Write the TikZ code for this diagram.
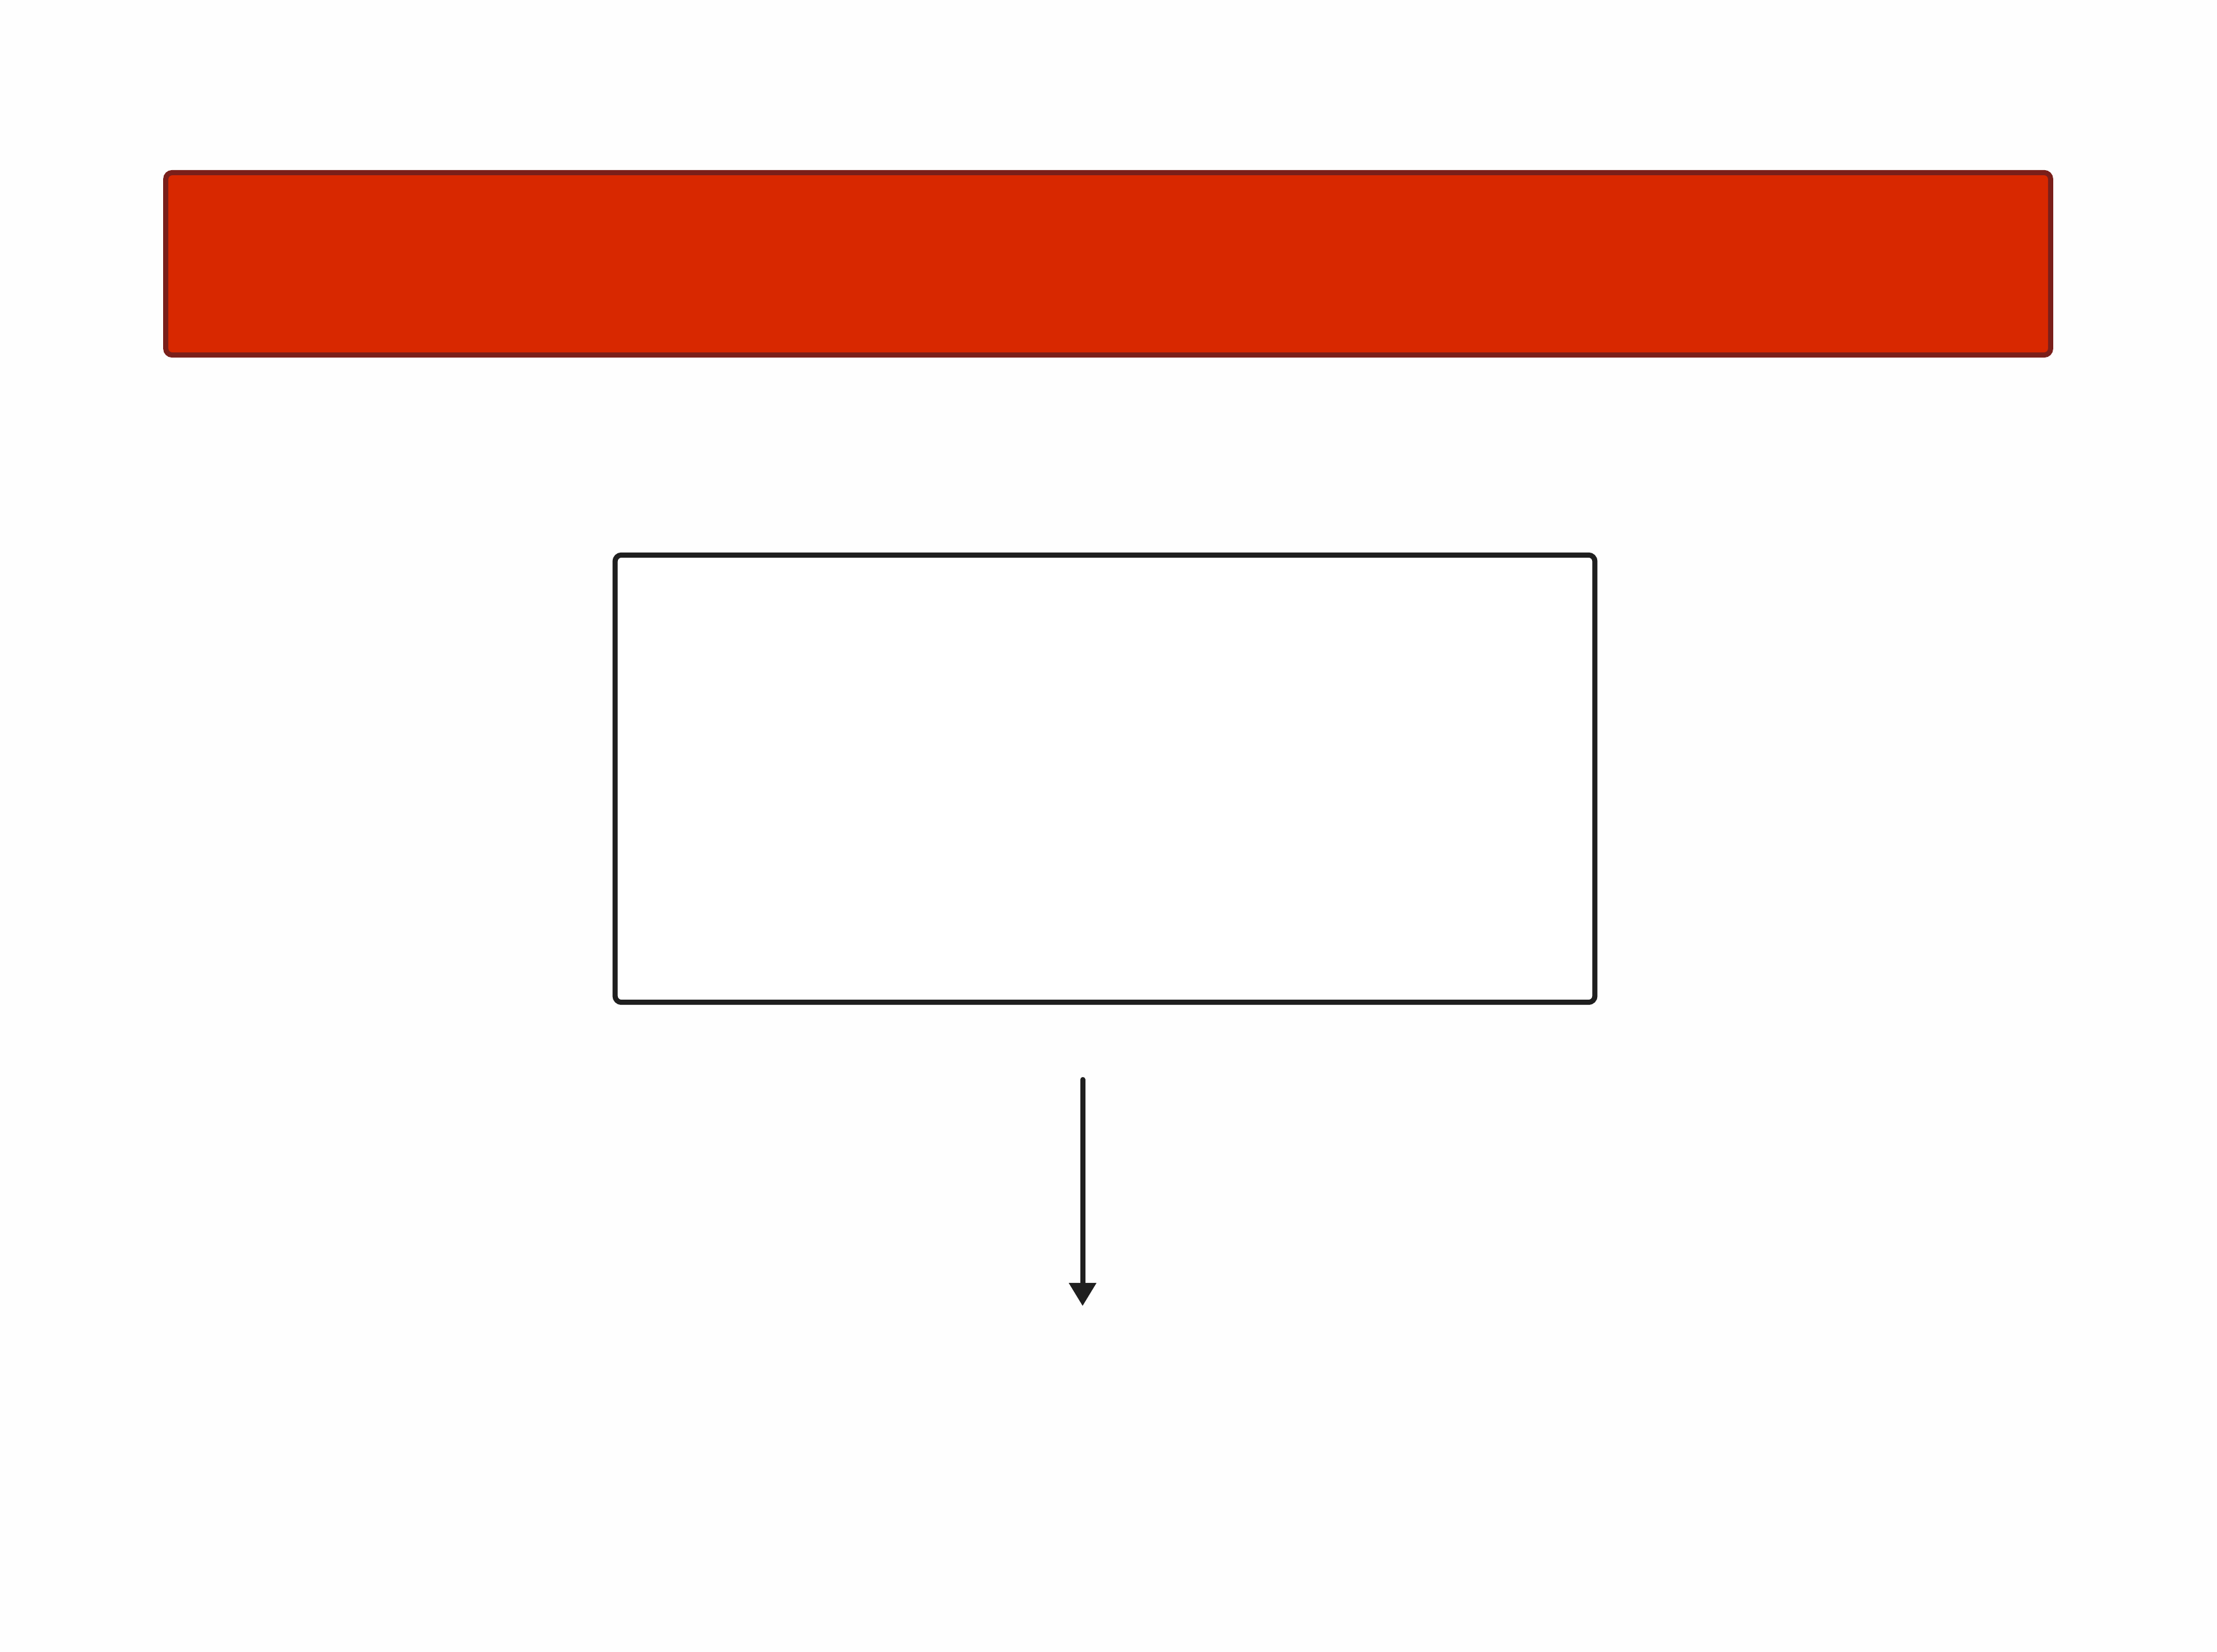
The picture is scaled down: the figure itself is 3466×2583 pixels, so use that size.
\documentclass[tikz,border=0pt]{standalone}
\usetikzlibrary{arrows.meta}
\definecolor{bg}{HTML}{FEFEFE}
\definecolor{redfill}{HTML}{D82800}
\definecolor{redline}{HTML}{7A1F1A}
\definecolor{ink}{HTML}{1F1F1F}
\tikzset{
  banner/.style={draw=redline, fill=redfill, line width=0.08cm, rounded corners=0.1cm, inner sep=0pt, outer sep=0pt},
  panel/.style={draw=ink, fill=white, line width=0.08cm, rounded corners=0.1cm, inner sep=0pt, outer sep=0pt},
  flow/.style={draw=ink, line width=0.08cm, line cap=round, -{Triangle[width=0.41cm,length=0.36cm]}}
}
\begin{document}
\begin{tikzpicture}[x=0.01cm,y=-0.01cm]
\fill[bg] (0,0) rectangle (3466,2583);
\useasboundingbox (0,0) rectangle (3466,2583);
\node[banner, minimum width=29.45cm, minimum height=2.85cm] (top) at (1732.5,412.5) {};
\node[panel, minimum width=15.31cm, minimum height=6.99cm] (box) at (1727.5,1217.5) {};
\coordinate (a1) at (1692.5,1688);
\coordinate (a2) at (1692.5,2042);
\draw[flow] (a1) -- (a2);
\end{tikzpicture}
\end{document}
